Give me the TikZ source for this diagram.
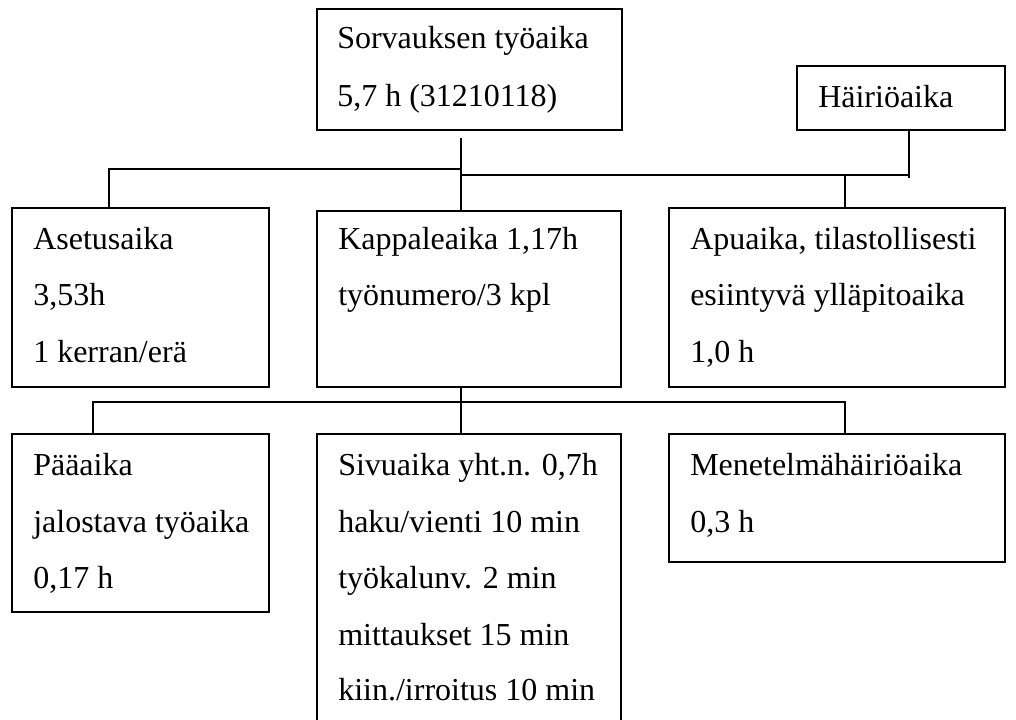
\documentclass[tikz,border=0pt]{standalone}
\usepackage{fontspec}
\setmainfont{Liberation Serif}
\usetikzlibrary{fit}
\begin{document}
\begin{tikzpicture}[x=0.75pt,y=-0.75pt,
  box/.style={draw=black,line width=1.5pt,inner sep=0pt,fill=none},
  link/.style={draw=black,line width=1.35pt},
  txt/.style={anchor=base west,inner sep=0pt,font=\fontsize{24}{28}\selectfont}]
\clip (0,0) rectangle (1016,719);
\fill[white] (0,0) rectangle (1016,719);

% boxes
\node[box,fit={(317,9) (622,130)}] (top) {};
\node[box,fit={(797,66) (1005,130)}] (hai) {};
\node[box,fit={(12,208) (269,387)}] (ase) {};
\node[box,fit={(317,211) (621,387)}] (kap) {};
\node[box,fit={(669,208) (1005,387)}] (apu) {};
\node[box,fit={(12,434) (269,612)}] (paa) {};
\node[box,fit={(317,434) (621,745)}] (siv) {};
\node[box,fit={(669,434) (1005,562)}] (men) {};

% texts
\node[txt] (top1) at (337,48) {Sorvauksen työaika};
\node[txt] (top2) at (337,106) {5,7 h (31210118)};
\node[txt] (hai1) at (818,107) {Häiriöaika};
\node[txt] (ase1) at (33,249) {Asetusaika};
\node[txt] (ase2) at (33,305) {3,53h};
\node[txt] (ase3) at (33,362) {1 kerran/erä};
\node[txt] (kap1) at (338,249) {Kappaleaika 1,17h};
\node[txt] (kap2) at (338,305) {työnumero/3 kpl};
\node[txt] (apu1) at (690,249) {Apuaika, tilastollisesti};
\node[txt] (apu2) at (690,305) {esiintyvä ylläpitoaika};
\node[txt] (apu3) at (690,362) {1,0 h};
\node[txt] (paa1) at (33,475) {Pääaika};
\node[txt] (paa2) at (33,532) {jalostava työaika};
\node[txt] (paa3) at (33,588) {0,17 h};
\node[txt] (siv1) at (338,475) {Sivuaika yht.n. 0,7h};
\node[txt] (siv2) at (338,532) {haku/vienti 10 min};
\node[txt] (siv3) at (338,588) {työkalunv. 2 min};
\node[txt] (siv4) at (338,645) {mittaukset 15 min};
\node[txt] (siv5) at (338,700) {kiin./irroitus 10 min};
\node[txt] (men1) at (690,475) {Menetelmähäiriöaika};
\node[txt] (men2) at (690,532) {0,3 h};

% junction points of the connector tree
\coordinate (stem) at (461,138);
\coordinate (jL) at (461,169);
\coordinate (jR) at (461,175);
\coordinate (xA) at (109,0);
\coordinate (xH) at (909,0);
\coordinate (xP) at (845,0);
\coordinate (jB) at (461,402);
\coordinate (xB) at (93,0);

% upper level
\draw[link] (stem) -- (stem |- kap.north);
\draw[link] (jL) -| (ase.north -| xA);
\draw[link] (jR) -- (jR -| xH);
\draw[link] ([yshift=-2.25pt]jR -| xH) -- (hai.south -| xH);
\draw[link] (jR -| xP) -- (apu.north -| xP);

% lower level
\draw[link] (kap.south -| jB) -- (siv.north -| jB);
\draw[link] (paa.north -| xB) |- (jB) -| (men.north -| xP);
\end{tikzpicture}
\end{document}
